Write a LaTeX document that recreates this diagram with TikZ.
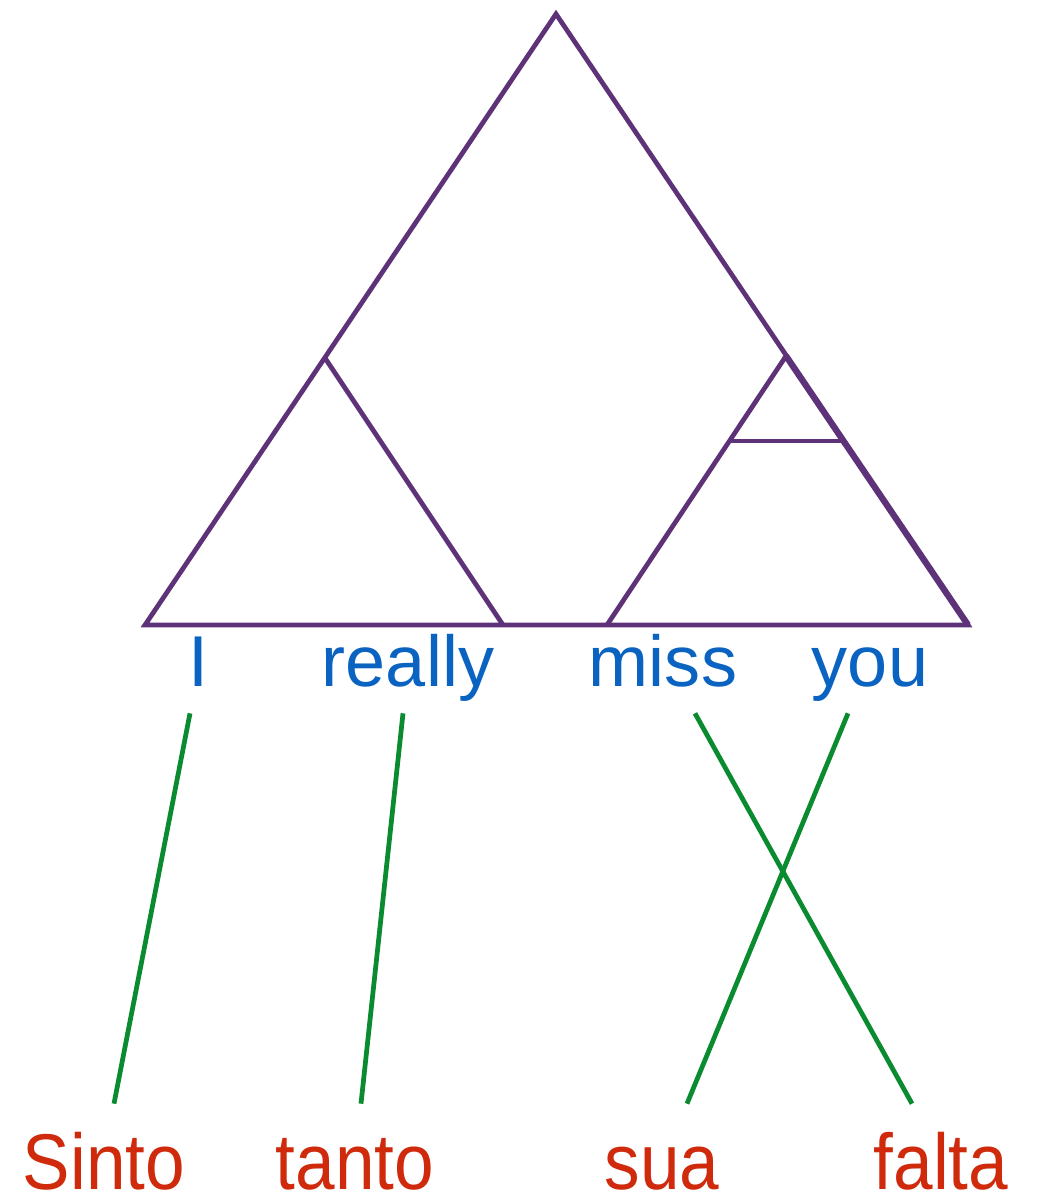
\documentclass[tikz,border=0pt]{standalone}
\usepackage{fontspec}
\setmainfont{Liberation Sans}
\newfontfamily\narrowfont[FakeStretch=0.9]{Liberation Sans}
\usetikzlibrary{positioning}
\definecolor{treeline}{HTML}{5E3279}
\definecolor{srcword}{HTML}{0B63C1}
\definecolor{tgtword}{HTML}{CF2A0C}
\definecolor{alignline}{HTML}{0B8B2F}

\begin{document}
\begin{tikzpicture}[x=0.02cm, y=-0.02cm,
  tree/.style={draw=treeline, line width=2.7pt, line join=miter},
  src/.style={anchor=base, inner sep=0pt, text=srcword, font=\fontsize{41}{41}\selectfont, text depth=0.54cm},
  tgt/.style={anchor=base, inner sep=0pt, text=tgtword, font=\narrowfont\fontsize{45}{45}\selectfont, text height=1.7cm, text depth=0pt},
  link/.style={draw=alignline, line width=2.7pt}]
\useasboundingbox (0,0) rectangle (1037,1199);
% tree
\coordinate (root) at (556,14);
\coordinate (bl) at (145,625);
\coordinate (br) at (968,625);
\coordinate (np) at (325,358);
\coordinate (vp) at (786,356);
\draw[tree] (root) -- (bl) -- (br) -- cycle;
\draw[tree] (np) -- (503,625);
\draw[tree] (vp) -- (607,625);
\draw[tree, line width=3.6pt] (vp) -- (br);
\draw[tree] (729.5,441) -- (841,441);
% source words
\node[src] (wI) at (199,686) {I};
\node[src] (wreally) at (408,686) {really};
\node[src] (wmiss) at (663,686) {miss};
\node[src] (wyou) at (870,686) {you};
% target words
\node[tgt] (tsinto) at (104,1189) {Sinto};
\node[tgt] (ttanto) at (355,1189) {tanto};
\node[tgt] (tsua) at (662,1189) {sua};
\node[tgt] (tfalta) at (941,1189) {falta};
% alignments
\draw[link] ([xshift=-0.18cm]wI.south) -- ([xshift=0.2cm]tsinto.north);
\draw[link] ([xshift=-0.1cm]wreally.south) -- ([xshift=0.12cm]ttanto.north);
\draw[link] ([xshift=0.64cm]wmiss.south) -- ([xshift=-0.58cm]tfalta.north);
\draw[link] ([xshift=-0.44cm]wyou.south) -- ([xshift=0.5cm]tsua.north);
\end{tikzpicture}
\end{document}
